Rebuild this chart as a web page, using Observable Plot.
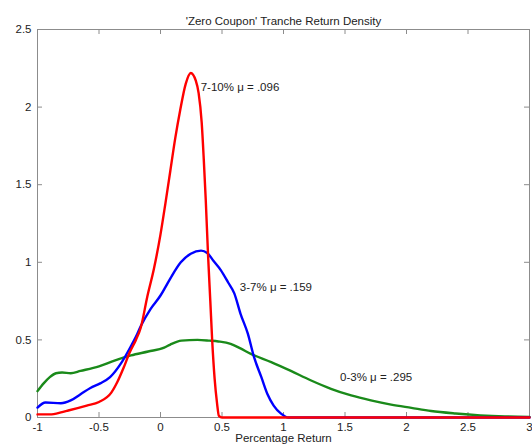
<!DOCTYPE html>
<html>
<head>
<meta charset="utf-8">
<script src="https://cdn.jsdelivr.net/npm/d3@7"></script>
<script src="https://cdn.jsdelivr.net/npm/@observablehq/plot@0.6"></script>
<style>
  body { margin: 0; background: #fff; }
  svg { font-family: "Liberation Sans", Arial, Helvetica, sans-serif; }
</style>
</head>
<body>
<div id="chart"></div>
<script>
const title = "'Zero Coupon' Tranche Return Density";
const xLabel = "Percentage Return";
const xTicks = [-1, -0.5, 0, 0.5, 1, 1.5, 2, 2.5, 3];
const yTicks = [0, 0.5, 1, 1.5, 2, 2.5];

// 0-3% tranche (green)
const greenX = [-1, -0.95, -0.9, -0.85, -0.8, -0.73, -0.65, -0.5, -0.38, -0.24, -0.1, 0.03, 0.08, 0.17, 0.3, 0.4, 0.47, 0.57, 0.65, 0.735, 0.9, 1.06, 1.22, 1.386, 1.55, 1.71, 1.875, 2.04, 2.2, 2.4, 2.6, 2.8, 3.0];
const greenY = [0.17, 0.22, 0.26, 0.285, 0.29, 0.285, 0.30, 0.33, 0.365, 0.40, 0.425, 0.45, 0.47, 0.495, 0.50, 0.495, 0.49, 0.475, 0.445, 0.41, 0.357, 0.30, 0.24, 0.185, 0.142, 0.11, 0.083, 0.062, 0.042, 0.026, 0.014, 0.007, 0.004];

// 3-7% tranche (blue)
const blueX = [-1, -0.935, -0.81, -0.73, -0.65, -0.57, -0.49, -0.41, -0.32, -0.24, -0.2, -0.16, -0.08, 0.0, 0.04, 0.083, 0.165, 0.246, 0.33, 0.38, 0.43, 0.49, 0.55, 0.6, 0.65, 0.71, 0.76, 0.82, 0.87, 0.92, 0.98, 1.04, 3];
const blueY = [0.064, 0.097, 0.092, 0.11, 0.15, 0.19, 0.22, 0.26, 0.35, 0.46, 0.52, 0.59, 0.70, 0.786, 0.84, 0.90, 1.0, 1.055, 1.075, 1.06, 1.01, 0.95, 0.87, 0.80, 0.67, 0.54, 0.39, 0.26, 0.15, 0.077, 0.025, 0, 0];

// 7-10% tranche (red)
const redX = [-1, -0.9, -0.8, -0.75, -0.6, -0.5, -0.4, -0.35, -0.3, -0.25, -0.2, -0.16, -0.107, -0.053, 0.0, 0.04, 0.08, 0.12, 0.16, 0.205, 0.246, 0.287, 0.31, 0.335, 0.352, 0.368, 0.387, 0.405, 0.42, 0.44, 0.46, 0.475, 0.5, 3];
const redY = [0.02, 0.02, 0.035, 0.045, 0.077, 0.10, 0.16, 0.23, 0.32, 0.42, 0.50, 0.58, 0.78, 0.96, 1.18, 1.38, 1.59, 1.80, 1.98, 2.15, 2.22, 2.17, 2.09, 1.9, 1.66, 1.40, 1.04, 0.75, 0.50, 0.25, 0.09, 0.01, 0, 0];

const labelText = ["7-10% \u03bc = .096", "3-7% \u03bc = .159", "0-3% \u03bc = .295"];
const labelX = [0.327, 0.645, 1.46];
const labelY = [2.13, 0.84, 0.26];

const toRows = (xs, ys) => xs.map((x, i) => ({x, y: ys[i]}));
const labels = labelText.map((t, i) => ({t, x: labelX[i], y: labelY[i]}));

const W = 532, H = 447;
const mL = 37, mR = 3, mT = 29, mB = 30;
const pw = W - mL - mR, ph = H - mT - mB;
const tickLen = 5;
const fs = 11.5;

const chart = Plot.plot({
  width: W,
  height: H,
  marginLeft: mL,
  marginRight: mR,
  marginTop: mT,
  marginBottom: mB,
  style: {fontFamily: '"Liberation Sans", Arial, sans-serif', fontSize: fs + "px", color: "#222", background: "#fff"},
  x: {domain: [-1, 3]},
  y: {domain: [0, 2.5]},
  marks: [
    Plot.frame({stroke: "#8c8c8c", strokeWidth: 1}),
    Plot.tickX(xTicks, {x: d => d, insetTop: ph - tickLen, stroke: "#8c8c8c"}),
    Plot.tickX(xTicks, {x: d => d, insetBottom: ph - tickLen, stroke: "#8c8c8c"}),
    Plot.tickY(yTicks, {y: d => d, insetRight: pw - tickLen, stroke: "#8c8c8c"}),
    Plot.tickY(yTicks, {y: d => d, insetLeft: pw - tickLen, stroke: "#8c8c8c"}),
    Plot.axisX({ticks: xTicks, tickSize: 0, tickPadding: 5, tickFormat: d => String(d), label: null, fontSize: fs, fill: "#222"}),
    Plot.axisY({ticks: yTicks, tickSize: 0, tickPadding: 6, tickFormat: d => String(d), label: null, fontSize: fs, fill: "#222"}),
    Plot.line(toRows(greenX, greenY), {x: "x", y: "y", stroke: "#1a8a1a", strokeWidth: 2.4, curve: "monotone-x"}),
    Plot.line(toRows(blueX, blueY), {x: "x", y: "y", stroke: "#0000ff", strokeWidth: 2.4, curve: "monotone-x"}),
    Plot.line(toRows(redX, redY), {x: "x", y: "y", stroke: "#ff0000", strokeWidth: 2.4, curve: "monotone-x"}),
    Plot.text(labels, {x: "x", y: "y", text: "t", textAnchor: "start", fontSize: fs, fill: "#222"}),
    Plot.text([title], {text: d => d, frameAnchor: "top", dy: -13, fontSize: fs, fill: "#222"}),
    Plot.text([xLabel], {text: d => d, frameAnchor: "bottom", dy: 24.5, fontSize: fs, fill: "#222"})
  ]
});
document.getElementById("chart").appendChild(chart);
</script>
</body>
</html>
